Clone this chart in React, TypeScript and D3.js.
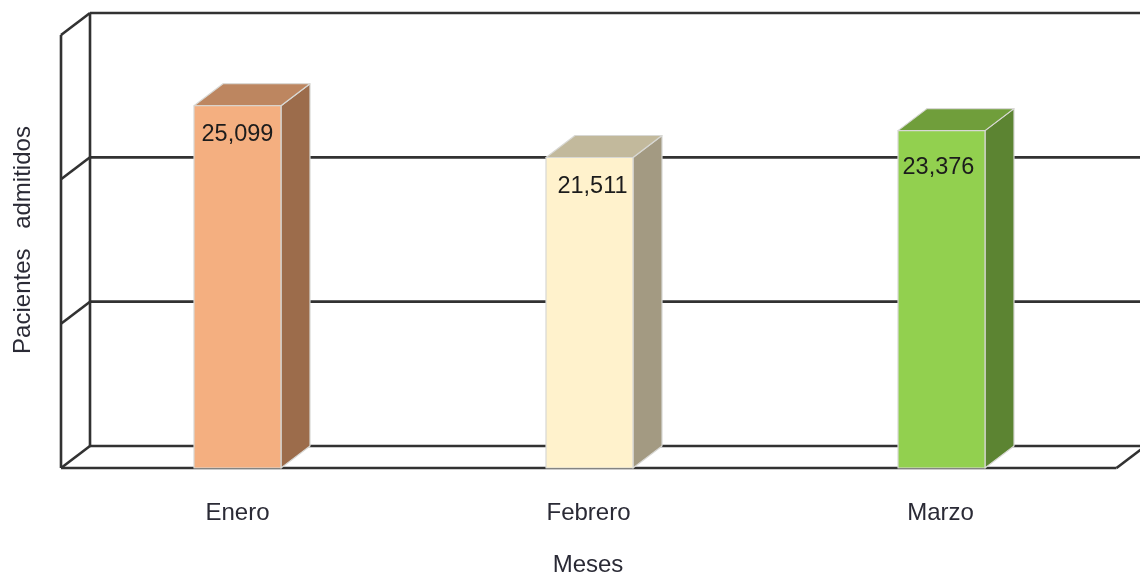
import React from "react";
import * as d3 from "d3";

const categories = ["Enero", "Febrero", "Marzo"];
const patients = [25099, 21511, 23376];
const yTicks = [0, 10000, 20000, 30000];
const frontColors = ["#F4AF80", "#FFF2CC", "#92D050"];
const sideColors = ["#9C6C4B", "#A39A82", "#5C8430"];
const topColors = ["#BD8660", "#C2B99C", "#6F9E3B"];
const xTitle = "Meses";
const yTitle = "Pacientes admitidos";

const W = 1140;
const H = 576;
const DX = 29;
const DY = -22;
const FONT = "'Liberation Sans', Arial, sans-serif";
const LABEL_NUDGE = [[0, 35], [3, 35], [-3, 43]];

export default function App() {
  const x = d3.scaleBand<string>().domain(categories).range([61.5, 1117.5]);
  const y = d3.scaleLinear().domain([0, 30000]).range([468, 35]);
  const barW = 87;
  const fmt = d3.format(",");
  const ink = "#303030";
  const lineW = 2.6;
  const right = x.range()[1];

  return (
    <svg width={W} height={H} viewBox={`0 0 ${W} ${H}`}
      style={{ position: "absolute", left: 0, top: 0, background: "#fff" }}>
      <defs>
        <filter id="soft" x="-5%" y="-5%" width="110%" height="110%">
          <feGaussianBlur stdDeviation="0.45" />
        </filter>
      </defs>
      <g filter="url(#soft)">
        {yTicks.map((t) => (
          <g key={t} stroke={ink} strokeWidth={lineW} fill="none">
            <line x1={61} y1={y(t)} x2={61 + DX} y2={y(t) + DY} />
            <line x1={61 + DX} y1={y(t) + DY} x2={W + 10} y2={y(t) + DY} />
          </g>
        ))}
        <line x1={61} y1={y(0)} x2={61} y2={y(30000)} stroke={ink} strokeWidth={lineW} />
        <line x1={61 + DX} y1={y(0) + DY} x2={61 + DX} y2={y(30000) + DY} stroke={ink} strokeWidth={lineW} />
        <line x1={61} y1={y(0)} x2={right - 1} y2={y(0)} stroke={ink} strokeWidth={lineW} />
        <line x1={right - 1} y1={y(0)} x2={right - 1 + DX} y2={y(0) + DY} stroke={ink} strokeWidth={lineW} />

        {categories.map((c, i) => {
          const x0 = x(c)! + (x.bandwidth() - barW) / 2;
          const x1 = x0 + barW;
          const yT = y(patients[i]);
          const yB = y(0);
          const outline = "#d8d8d4";
          return (
            <g key={c} stroke={outline} strokeWidth={1.2} strokeLinejoin="round">
              <path d={`M${x1},${yT}L${x1 + DX},${yT + DY}L${x1 + DX},${yB + DY}L${x1},${yB}Z`} fill={sideColors[i]} />
              <path d={`M${x0},${yT}L${x0 + DX},${yT + DY}L${x1 + DX},${yT + DY}L${x1},${yT}Z`} fill={topColors[i]} />
              <rect x={x0} y={yT} width={barW} height={yB - yT} fill={frontColors[i]} />
            </g>
          );
        })}

        {categories.map((c, i) => {
          const cx = x(c)! + x.bandwidth() / 2;
          return (
            <g key={c} fontFamily={FONT} textAnchor="middle">
              <text x={cx + LABEL_NUDGE[i][0]} y={y(patients[i]) + LABEL_NUDGE[i][1]}
                fontSize={23.5} fill="#1c1c1c">{fmt(patients[i])}</text>
              <text x={cx - (i === 0 ? 0 : 1)} y={520} fontSize={24} fill="#2a2a35">{c}</text>
            </g>
          );
        })}

        <text x={588} y={572} textAnchor="middle" fontFamily={FONT} fontSize={24} fill="#2a2a35">{xTitle}</text>
        <text transform="translate(30,240) rotate(-90)" textAnchor="middle" fontFamily={FONT}
          fontSize={24} fill="#2a2a35" style={{ wordSpacing: "13px" }}>{yTitle}</text>
      </g>
    </svg>
  );
}
